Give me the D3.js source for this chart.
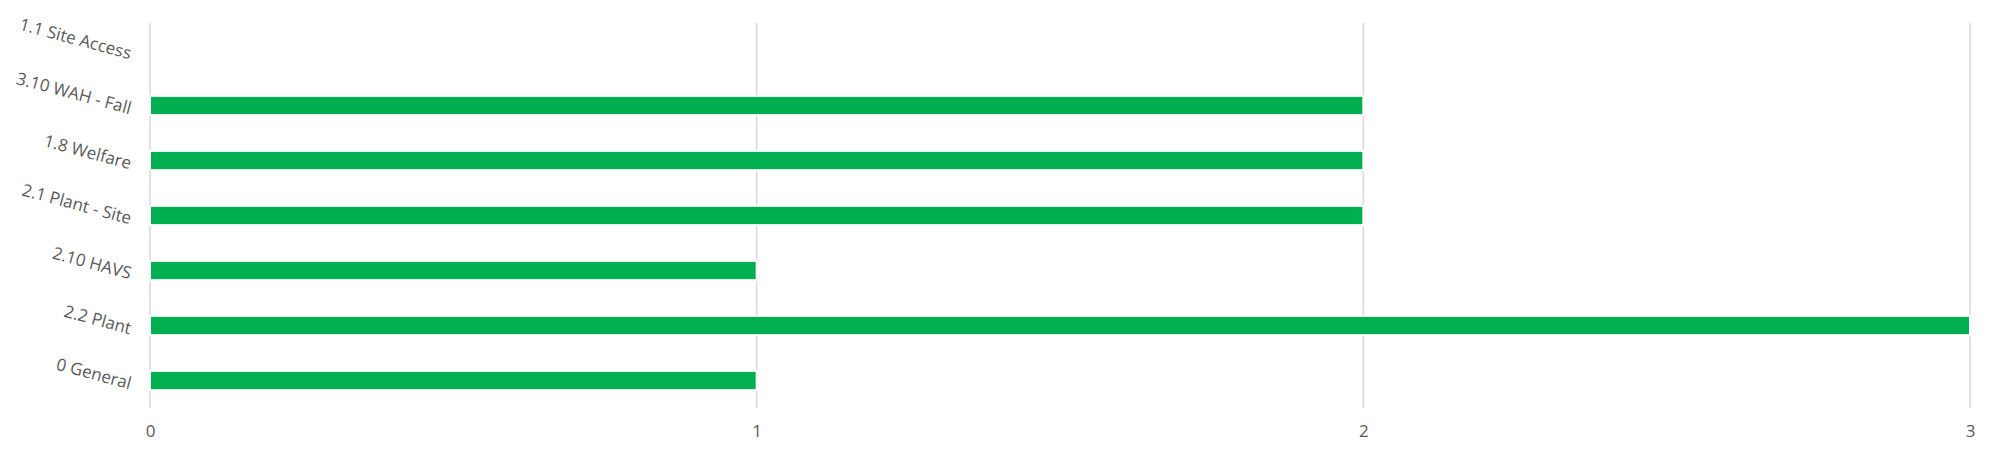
<!DOCTYPE html>
<html><head><meta charset="utf-8">
<script src="https://cdn.jsdelivr.net/npm/d3@7"></script>
<style>body{margin:0;background:#fff}svg{display:block}text{font-family:"Open Sans",sans-serif;fill:#595959}</style>
</head><body>
<svg id="c" width="1998" height="456"></svg>
<script>
const categories = ["1.1 Site Access","3.10 WAH - Fall","1.8 Welfare","2.1 Plant - Site","2.10 HAVS","2.2 Plant","0 General"];
const values = [0,2,2,2,1,3,1];
const ticks = [0,1,2,3];

const svg = d3.select("#c");
const x = d3.scaleLinear().domain([0,3]).range([150,1970]);
const y = d3.scaleBand().domain(categories).range([23,408]).paddingInner(0.65).paddingOuter(0.325);

svg.append("g").selectAll("line").data(ticks).join("line")
  .attr("x1",d=>x(d)).attr("x2",d=>x(d)).attr("y1",23).attr("y2",408)
  .attr("stroke","#d9d9d9").attr("stroke-width",1.5);

svg.append("g").selectAll("rect").data(values.map((v,i)=>({c:categories[i],v}))).join("rect")
  .filter(d=>d.v>0)
  .attr("x",x(0)).attr("y",d=>y(d.c)).attr("width",d=>x(d.v)-x(0)).attr("height",y.bandwidth())
  .attr("fill","#00b050").attr("stroke","#fff").attr("stroke-width",2);

const xa = svg.append("g").attr("transform","translate(0,408)").call(d3.axisBottom(x).tickValues(ticks).tickFormat(d3.format("d")).tickSize(0).tickPadding(17));
xa.select(".domain").remove();
xa.selectAll("text").style("font-size","17px").style("font-family","'Open Sans',sans-serif").attr("fill","#595959");

svg.append("g").selectAll("text").data(categories).join("text")
  .attr("transform",d=>`translate(131,${y(d)+y.bandwidth()/2+3}) rotate(15)`)
  .attr("text-anchor","end").attr("dy","0.35em")
  .style("font-size","17px").text(d=>d);
</script>
</body></html>
